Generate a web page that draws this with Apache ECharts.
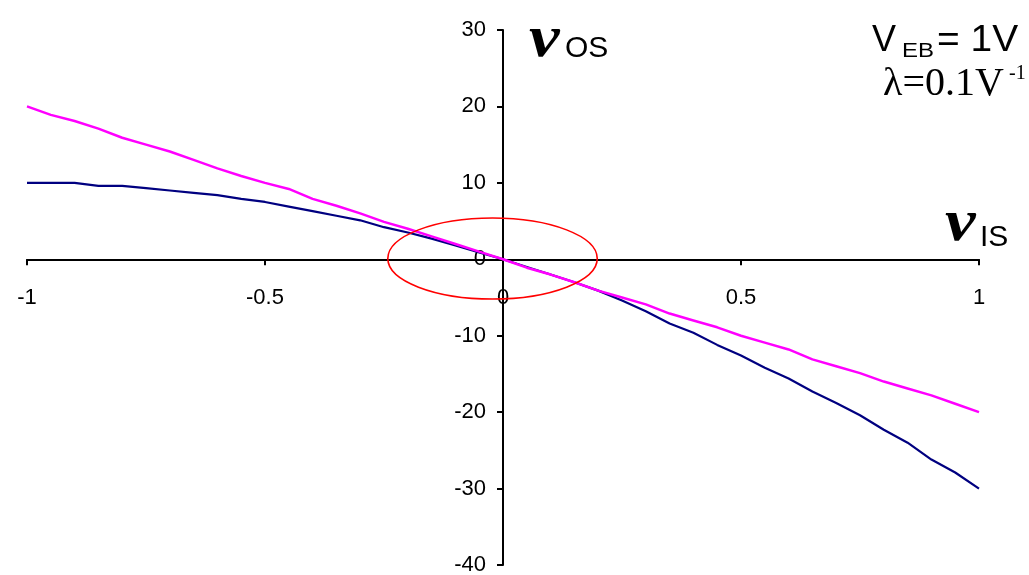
<!DOCTYPE html>
<html>
<head>
<meta charset="utf-8">
<script src="https://cdn.jsdelivr.net/npm/echarts@6/dist/echarts.min.js"></script>
<style>
html,body{margin:0;padding:0;background:#fff;}
#chart{width:1029px;height:575px;}
</style>
</head>
<body>
<div id="chart"></div>
<script>
// x values (v_IS)
var xValues = [-1,-0.95,-0.9,-0.85,-0.8,-0.75,-0.7,-0.65,-0.6,-0.55,-0.5,-0.45,-0.4,-0.35,-0.3,-0.25,-0.2,-0.15,-0.1,-0.05,0,
  0.05,0.1,0.15,0.2,0.25,0.3,0.35,0.4,0.45,0.5,0.55,0.6,0.65,0.7,0.75,0.8,0.85,0.9,0.95,1];
// magenta curve
var magentaValues = [20.0,18.9,18.1,17.1,15.9,15.0,14.1,13.0,11.9,10.9,10.0,9.2,7.9,7.0,6.0,4.9,4.0,3.0,2.0,1.0,0,
  -1.1,-2.0,-3.0,-4.1,-5.0,-5.9,-7.1,-8.0,-8.9,-10.0,-10.9,-11.8,-13.1,-14.0,-14.9,-16.0,-16.9,-17.8,-18.9,-20.0];
// navy curve
var navyValues = [10.0,10.0,10.0,9.6,9.6,9.3,9.0,8.7,8.4,7.9,7.5,6.9,6.3,5.7,5.1,4.2,3.5,2.7,1.8,0.9,0,
  -1.0,-2.0,-3.0,-4.1,-5.4,-6.8,-8.4,-9.6,-11.2,-12.6,-14.2,-15.6,-17.3,-18.8,-20.4,-22.3,-24.0,-26.2,-27.9,-30.0];
// axis ranges
var xRange = [-1, 1, 0.5];
var yRange = [-40, 30, 10];
// red ellipse in data units: [centerX, centerY, radiusX, radiusY]
var ellipseData = [-0.022, 0.1, 0.22, 5.3];

function pairs(xs, ys){ return xs.map(function(x,i){ return [x, ys[i]]; }); }

var W = 1029, H = 575;
var G = {left:27, right:50, top:30, bottom:10};
var gw = W - G.left - G.right, gh = H - G.top - G.bottom;
// move axes so they cross at zero
var xAxisOffset = -gh * (0 - yRange[0]) / (yRange[1] - yRange[0]);
var yAxisOffset = -gw * (0 - xRange[0]) / (xRange[1] - xRange[0]);

var chart = echarts.init(document.getElementById('chart'), null, {renderer:'canvas'});
var option = {
  animation:false,
  backgroundColor:'#fff',
  grid:{left:G.left,right:G.right,top:G.top,bottom:G.bottom,containLabel:false,outerBoundsMode:'none'},
  xAxis:{
    type:'value',min:xRange[0],max:xRange[1],interval:xRange[2],position:'bottom',offset:xAxisOffset,
    axisLine:{onZero:false,lineStyle:{color:'#000',width:2}},
    axisTick:{show:true,length:6,lineStyle:{color:'#000',width:2}},
    axisLabel:{margin:28,color:'#000',fontFamily:'Liberation Sans, Arial',fontSize:22,showMinLabel:true,showMaxLabel:true},
    splitLine:{show:false}
  },
  yAxis:{
    type:'value',min:yRange[0],max:yRange[1],interval:yRange[2],position:'left',offset:yAxisOffset,
    axisLine:{show:true,onZero:false,lineStyle:{color:'#000',width:2}},
    axisTick:{show:true,length:6,lineStyle:{color:'#000',width:2}},
    axisLabel:{margin:17,color:'#000',fontFamily:'Liberation Sans, Arial',fontSize:22,showMinLabel:true,showMaxLabel:true},
    splitLine:{show:false}
  },
  series:[
    {type:'line',data:pairs(xValues,magentaValues),showSymbol:false,symbol:'none',
     lineStyle:{color:'#FF00FF',width:2.5},z:3},
    {type:'line',data:pairs(xValues,navyValues),showSymbol:false,symbol:'none',
     lineStyle:{color:'#000080',width:2.2},z:2}
  ]
};
chart.setOption(option);

var c = chart.convertToPixel({gridIndex:0},[ellipseData[0],ellipseData[1]]);
var e = chart.convertToPixel({gridIndex:0},[ellipseData[0]+ellipseData[2],ellipseData[1]+ellipseData[3]]);
var rx = Math.abs(e[0]-c[0]), ry = Math.abs(e[1]-c[1]);

function txt(x,y,text,font,sx){
  return {type:'text',x:x,y:y,scaleX:sx||1,
    style:{text:text,x:0,y:0,font:font,fill:'#000',textAlign:'left',textVerticalAlign:'middle'},z:10};
}
chart.setOption({
  graphic:[
    {type:'ellipse',shape:{cx:c[0],cy:c[1],rx:rx,ry:ry},style:{fill:'none',stroke:'#FF0000',lineWidth:1.6},z:5},
    txt(529,40,'v','bold italic 60px "Liberation Serif", serif',1.15),
    txt(565,49,'OS','30px "Liberation Sans", Arial'),
    txt(945,224,'v','bold italic 60px "Liberation Serif", serif',1.15),
    txt(980,238,'IS','30px "Liberation Sans", Arial'),
    txt(872,41,'V','36px "Liberation Sans", Arial'),
    txt(902,51,'EB','20px "Liberation Sans", Arial',1.2),
    txt(937,41,'= 1V','36px "Liberation Sans", Arial',1.08),
    txt(883,84,'λ=0.1V','40px "Liberation Serif", serif'),
    txt(1009,74,'-1','20px "Liberation Serif", serif')
  ]
});
</script>
</body>
</html>
